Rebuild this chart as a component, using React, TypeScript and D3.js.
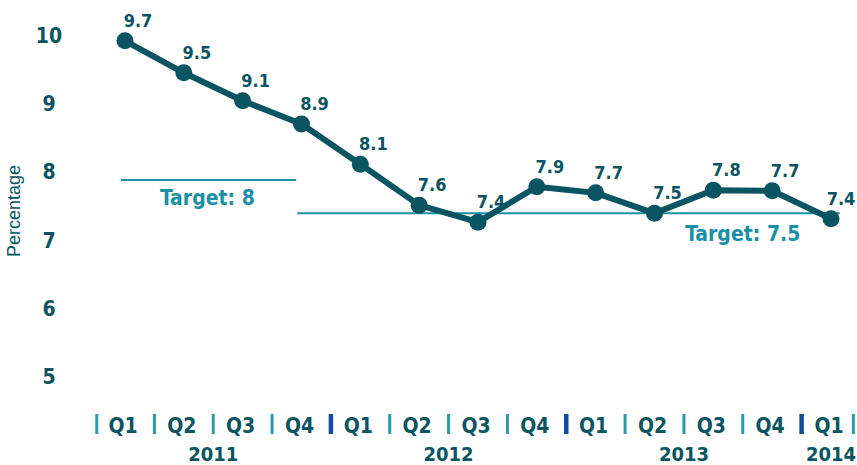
import React from "react";
import * as d3 from "d3";

// quarterly values, 2011 Q1 .. 2014 Q1
const quarters = ["Q1", "Q2", "Q3", "Q4", "Q1", "Q2", "Q3", "Q4", "Q1", "Q2", "Q3", "Q4", "Q1"];
const rateLabels = ["9.7", "9.5", "9.1", "8.9", "8.1", "7.6", "7.4", "7.9", "7.7", "7.5", "7.8", "7.7", "7.4"];
// where the points sit on the y axis in the picture
const plotted = [9.93, 9.46, 9.05, 8.71, 8.12, 7.52, 7.27, 7.79, 7.7, 7.4, 7.74, 7.73, 7.32];
const yTicks = [10, 9, 8, 7, 6, 5];

const years = ["2011", "2012", "2013", "2014"];
const yearFirst = [0, 4, 8, 12];
const yearLast = [3, 7, 11, 12];

const targetLabels = ["Target: 8", "Target: 7.5"];
const targetValues = [7.89, 7.4];
const targetFrom = [-0.07, 2.93];
const targetTo = [2.91, 12.15];
const targetLabelAt = [1.4, 10.5];

const W = 857;
const H = 465;
const FONT = "'Liberation Sans Narrow', 'DejaVu Sans Condensed', 'Roboto', sans-serif";

const dark = "#0b5461";
const light = "#1b8fa6";
const sepLight = "#2899b1";
const sepYear = "#0c4f9e";

export default function App() {
  const x = d3.scaleLinear().domain([0, quarters.length - 1]).range([125, 831]);
  const y = d3.scaleLinear().domain([5, 10]).range([377, 36]);
  const step = x(1) - x(0);

  const line = d3
    .line<number>()
    .x((_, i) => x(i))
    .y((d) => y(d));

  // separators between quarters
  const seps: { pos: number; year: boolean }[] = [];
  for (let i = 0; i <= quarters.length; i++) {
    let pos: number;
    if (i === 0) pos = x(0) - step * 0.48;
    else if (i === quarters.length) pos = x(i - 1) + step * 0.38;
    else pos = (x(i - 1) + x(i)) / 2;
    seps.push({ pos, year: yearFirst.includes(i) && i > 0 && i < quarters.length });
  }

  return (
    <svg width={W} height={H} style={{ position: "absolute", left: 0, top: 0, background: "#fff" }}>
      {/* y axis title */}
      <text
        transform={`translate(20,211) rotate(-90)`}
        textAnchor="middle"
        fontFamily="'Liberation Sans', Arial, sans-serif"
        fontSize={18}
        fill={dark}
      >
        Percentage
      </text>

      {/* y tick labels */}
      {yTicks.map((t) => (
        <text
          key={t}
          x={49}
          y={y(t) + 7}
          textAnchor="middle"
          fontFamily={FONT}
          fontWeight="bold"
          fontSize={21}
          fill={dark}
        >
          {t}
        </text>
      ))}

      {/* targets */}
      {targetValues.map((v, i) => (
        <g key={i}>
          <line x1={x(targetFrom[i])} x2={x(targetTo[i])} y1={y(v)} y2={y(v)} stroke={light} strokeWidth={2} />
          <text
            x={x(targetLabelAt[i])}
            y={y(v) + (i === 0 ? 25 : 28)}
            textAnchor="middle"
            fontFamily={FONT}
            fontWeight="bold"
            fontSize={21}
            fill={light}
          >
            {targetLabels[i]}
          </text>
        </g>
      ))}

      {/* series */}
      <path d={line(plotted) || ""} fill="none" stroke={dark} strokeWidth={6} strokeLinejoin="round" />
      {plotted.map((v, i) => (
        <circle key={i} cx={x(i)} cy={y(v)} r={8.5} fill={dark} />
      ))}
      {plotted.map((v, i) => (
        <text
          key={i}
          x={x(i) + (i === plotted.length - 1 ? 10 : 13)}
          y={y(v) - 14}
          textAnchor="middle"
          fontFamily={FONT}
          fontWeight="bold"
          fontSize={18}
          fill={dark}
        >
          {rateLabels[i]}
        </text>
      ))}

      {/* x axis quarter labels */}
      {quarters.map((q, i) => (
        <text
          key={i}
          x={x(i) - 2}
          y={433}
          textAnchor="middle"
          fontFamily={FONT}
          fontWeight="bold"
          fontSize={21}
          fill={dark}
        >
          {q}
        </text>
      ))}
      {seps.map((s, i) => (
        <line
          key={i}
          x1={s.pos}
          x2={s.pos}
          y1={414}
          y2={434}
          stroke={s.year ? sepYear : sepLight}
          strokeWidth={s.year ? 4.5 : 3}
        />
      ))}

      {/* years */}
      {years.map((yr, i) => (
        <text
          key={yr}
          x={(x(yearFirst[i]) + x(yearLast[i])) / 2}
          y={461}
          textAnchor="middle"
          fontFamily={FONT}
          fontWeight="bold"
          fontSize={20}
          fill={dark}
        >
          {yr}
        </text>
      ))}
    </svg>
  );
}
